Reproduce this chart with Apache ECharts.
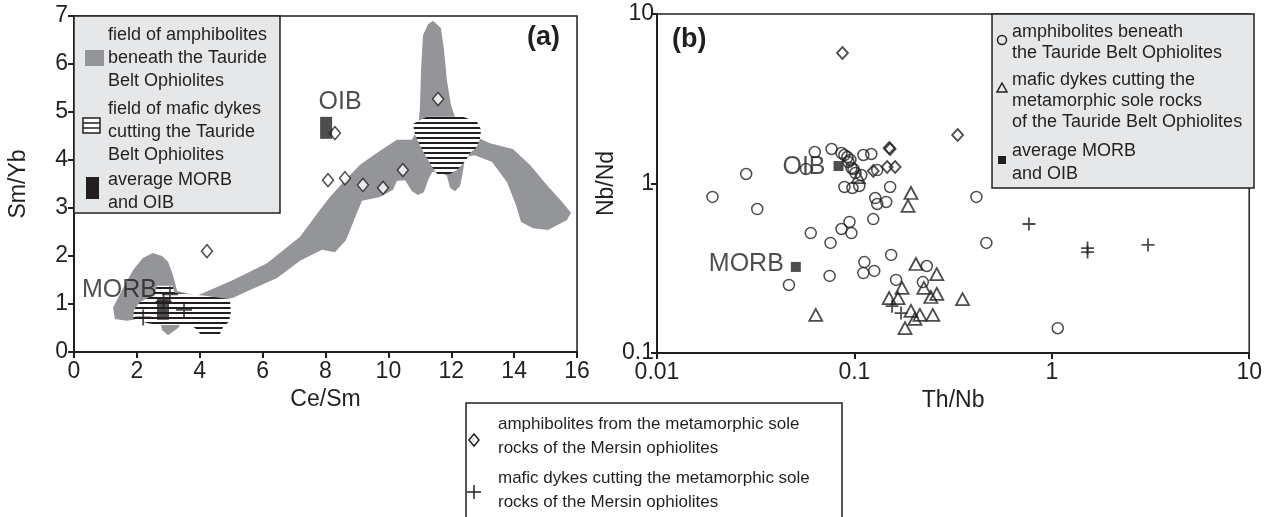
<!DOCTYPE html>
<html>
<head>
<meta charset="utf-8">
<script src="https://cdn.jsdelivr.net/npm/echarts@6/dist/echarts.min.js"></script>
<style>
  html, body { margin: 0; padding: 0; background: #fff; }
  #chart { width: 1265px; height: 517px; }
</style>
</head>
<body>
<div id="chart"></div>
<script>
const INK = "#231f20";
const GRAY = "#939598";
const FONT = '"Liberation Sans", Arial, sans-serif';

// ---------- panel (a): Ce/Sm vs Sm/Yb ----------
// field of amphibolites beneath the Tauride Belt Ophiolites (outline, data units)
const fieldTaurideAmph = [
	[11.42, 6.90], [11.67, 6.75], [11.77, 6.29], [11.86, 5.67], [11.99, 5.15], [12.15, 4.83],
	[12.60, 4.54], [13.23, 4.35], [13.96, 4.23], [14.50, 3.90], [15.04, 3.48], [15.52, 3.13],
	[15.81, 2.90], [15.68, 2.75], [15.08, 2.54], [14.60, 2.58], [14.22, 2.71], [14.06, 3.06],
	[13.77, 3.54], [13.30, 3.96], [12.75, 4.10], [12.44, 4.06], [12.37, 3.75], [12.28, 3.46],
	[12.12, 3.35], [11.96, 3.42], [11.86, 3.67], [11.64, 3.75], [11.39, 3.75], [11.26, 3.58],
	[11.13, 3.33], [10.94, 3.27], [10.75, 3.35], [10.53, 3.58], [10.27, 3.56], [10.15, 3.38],
	[9.73, 3.23], [9.16, 3.15], [8.97, 2.85], [8.65, 2.33], [8.30, 2.08], [7.89, 2.13],
	[7.19, 1.90], [6.46, 1.54], [5.60, 1.29], [5.06, 1.13], [4.17, 1.00], [3.63, 0.92],
	[3.50, 0.71], [3.31, 0.50], [2.99, 0.35], [2.80, 0.46], [2.74, 0.67], [2.26, 0.71],
	[1.69, 0.65], [1.30, 0.69], [1.24, 0.92], [1.53, 1.29], [1.88, 1.71], [2.19, 1.96],
	[2.51, 2.06], [2.80, 2.00], [2.99, 1.88], [3.15, 1.60], [3.28, 1.27], [3.91, 1.17],
	[5.06, 1.50], [6.14, 1.85], [7.19, 2.40], [7.82, 2.96], [8.14, 3.23], [8.62, 3.58],
	[9.10, 3.90], [9.64, 4.15], [10.27, 4.42], [10.75, 4.42], [10.94, 4.67], [11.00, 5.04],
	[11.04, 5.88], [11.10, 6.60], [11.26, 6.83]
];
// fields of mafic dykes cutting the Tauride Belt Ophiolites
const fieldDykesUpper = [
	[11.23, 4.90], [12.37, 4.90], [12.82, 4.79], [12.95, 4.63], [12.91, 4.42], [12.79, 4.25],
	[12.60, 4.15], [12.47, 4.00], [12.34, 3.90], [12.18, 3.79], [11.96, 3.71], [11.55, 3.71],
	[11.42, 3.83], [11.26, 4.00], [11.13, 4.15], [11.00, 4.31], [10.85, 4.52], [10.78, 4.75],
	[11.00, 4.83]
];
const fieldDykesLower = [
	[2.64, 1.38], [3.12, 1.38], [3.21, 1.23], [4.17, 1.17], [4.96, 1.10], [4.99, 0.83],
	[4.93, 0.63], [4.74, 0.52], [4.61, 0.33], [4.10, 0.31], [3.85, 0.50], [3.69, 0.56],
	[2.74, 0.56], [2.35, 0.60], [1.88, 0.69], [1.91, 0.88], [2.10, 1.04], [2.42, 1.15],
	[2.58, 1.25]
];
const aMersinAmph = [
	[11.58, 5.27], [8.30, 4.56], [8.08, 3.58], [8.62, 3.62], [9.19, 3.48], [9.83, 3.42],
	[10.46, 3.79], [4.23, 2.10]
];
const aMersinDykes = [[2.20, 0.72], [3.50, 0.88], [2.85, 1.05], [3.05, 1.20]];
const aOIB = [8.02, 4.67];
const aMORB = [2.83, 0.90];

// ---------- panel (b): Th/Nb vs Nb/Nd ----------
const bTaurideAmph = [
	[0.0191, 0.833], [0.0283, 1.138], [0.0322, 0.707], [0.0466, 0.252], [0.0568, 1.218],
	[0.0601, 0.510], [0.0630, 1.534], [0.0749, 0.285], [0.0757, 0.446], [0.0766, 1.598],
	[0.0860, 1.513], [0.0890, 1.473], [0.0922, 1.433], [0.0955, 1.376], [0.0860, 0.539],
	[0.0944, 0.593], [0.0966, 0.510], [0.0890, 0.954], [0.0977, 0.941], [0.1059, 0.967],
	[0.0966, 1.234], [0.1012, 1.153], [0.1084, 1.122], [0.1110, 1.473], [0.1218, 1.493],
	[0.1123, 0.344], [0.1110, 0.296], [0.1260, 0.305], [0.1246, 0.617], [0.1275, 0.821],
	[0.1305, 0.757], [0.1449, 0.778], [0.1305, 1.201], [0.1517, 0.954], [0.1535, 0.379],
	[0.1626, 0.270], [0.2327, 0.326], [0.2222, 0.262], [0.4151, 0.833], [0.4660, 0.446],
	[1.072, 0.140], [0.0933, 1.339], [0.0989, 1.218]
];
const bTaurideDykes = [
	[0.1047, 1.092], [0.1934, 0.879], [0.1869, 0.737], [0.0637, 0.168], [0.2049, 0.335],
	[0.2614, 0.292], [0.1743, 0.242], [0.1500, 0.211], [0.1664, 0.211], [0.2248, 0.242],
	[0.2438, 0.214], [0.2614, 0.223], [0.3530, 0.208], [0.1934, 0.177], [0.2147, 0.168],
	[0.2026, 0.159], [0.2495, 0.168], [0.1805, 0.140]
];
const bMersinAmph = [
	[0.0870, 5.89], [0.1517, 1.598], [0.1500, 1.620], [0.1246, 1.185], [0.1465, 1.251],
	[0.1607, 1.251], [0.3332, 1.932]
];
const bMersinDykes = [
	[0.1552, 0.189], [0.1723, 0.172], [0.766, 0.577], [1.517, 0.416], [1.517, 0.394],
	[3.072, 0.434]
];
const bOIB = [0.0831, 1.268];
const bMORB = [0.0505, 0.322];

// horizontal hatch pattern for the dyke fields
const hatchCanvas = document.createElement("canvas");
hatchCanvas.width = 8;
hatchCanvas.height = 5;
const hctx = hatchCanvas.getContext("2d");
hctx.fillStyle = "#fff";
hctx.fillRect(0, 0, 8, 5);
hctx.fillStyle = INK;
hctx.fillRect(0, 2, 8, 2);
const hatchPattern = {image: hatchCanvas, repeat: "repeat"};

const fieldSeries = (points, fill, z) => ({
	type: "custom",
	xAxisIndex: 0,
	yAxisIndex: 0,
	silent: true,
	z: z,
	data: points,
	renderItem: (params, api) => {
		if (params.dataIndex !== 0) return null;
		return {
			type: "polygon",
			shape: {points: points.map((p) => api.coord(p))},
			style: {fill: fill},
		};
	},
});

const hollow = (borderWidth) => ({color: "rgba(0,0,0,0)", borderColor: INK, borderWidth: borderWidth});
const PLUS = "path://M0,5L10,5M5,0L5,10";

const valueAxisStyle = {
	axisLine: {lineStyle: {color: INK, width: 2}},
	axisTick: {length: 6, lineStyle: {color: INK, width: 2}},
	splitLine: {show: false},
	nameTextStyle: {color: INK, fontSize: 23, fontFamily: FONT},
};
const fmtLog = (v) => String(+(+v).toPrecision(2));

const option = {
	animation: false,
	backgroundColor: "#fff",
	grid: [
		{left: 74, top: 16, width: 503, height: 336, show: true, borderColor: INK, borderWidth: 1.5},
		{left: 657, top: 14, width: 597, height: 339, show: true, borderColor: INK, borderWidth: 1.5},
	],
	xAxis: [
		{
			gridIndex: 0, type: "value", min: 0, max: 16, interval: 2,
			name: "Ce/Sm", nameLocation: "middle", nameGap: 24,
			axisLabel: {color: INK, fontSize: 23, fontFamily: FONT, margin: 8},
			...valueAxisStyle,
		},
		{
			gridIndex: 1, type: "log", logBase: 10, min: 0.01, max: 10,
			name: "Th/Nb", nameLocation: "middle", nameGap: 31,
			axisLabel: {color: INK, fontSize: 23, fontFamily: FONT, margin: 8, formatter: fmtLog},
			minorTick: {show: false},
			...valueAxisStyle,
		},
	],
	yAxis: [
		{
			gridIndex: 0, type: "value", min: 0, max: 7, interval: 1,
			name: "Sm/Yb", nameLocation: "middle", nameGap: 44, nameRotate: 90,
			axisLabel: {color: INK, fontSize: 23, fontFamily: FONT, margin: 6},
			...valueAxisStyle,
		},
		{
			gridIndex: 1, type: "log", logBase: 10, min: 0.1, max: 10,
			name: "Nb/Nd", nameLocation: "middle", nameGap: 29, nameRotate: 90,
			axisLabel: {color: INK, fontSize: 23, fontFamily: FONT, margin: 3, formatter: fmtLog},
			minorTick: {show: false},
			...valueAxisStyle,
		},
	],
	series: [
		fieldSeries(fieldTaurideAmph, GRAY, 1),
		fieldSeries(fieldDykesUpper, hatchPattern, 2),
		fieldSeries(fieldDykesLower, hatchPattern, 2),
		{
			type: "scatter", xAxisIndex: 0, yAxisIndex: 0, z: 3,
			symbol: "diamond", symbolSize: [11, 13],
			itemStyle: {color: "#fff", borderColor: INK, borderWidth: 1.5},
			data: aMersinAmph,
		},
		{
			type: "scatter", xAxisIndex: 0, yAxisIndex: 0, z: 3,
			symbol: PLUS, symbolSize: 16,
			itemStyle: hollow(1.8),
			data: aMersinDykes,
		},
		{
			type: "scatter", xAxisIndex: 0, yAxisIndex: 0, z: 4,
			symbol: "rect", symbolSize: [12, 22],
			itemStyle: {color: INK},
			label: {show: true, formatter: "{b}", color: INK, fontSize: 25, fontFamily: FONT},
			data: [
				{name: "OIB", value: aOIB, label: {position: "top", distance: 5, offset: [14, 3]}},
				{name: "MORB", value: aMORB, label: {position: "left", distance: 5, offset: [5, -19]}},
			],
		},
		{
			type: "scatter", xAxisIndex: 1, yAxisIndex: 1, z: 3,
			symbol: "circle", symbolSize: 11,
			itemStyle: hollow(1.5),
			data: bTaurideAmph,
		},
		{
			type: "scatter", xAxisIndex: 1, yAxisIndex: 1, z: 3,
			symbol: "triangle", symbolSize: [13, 12],
			itemStyle: hollow(1.8),
			data: bTaurideDykes,
		},
		{
			type: "scatter", xAxisIndex: 1, yAxisIndex: 1, z: 3,
			symbol: "diamond", symbolSize: [11, 12],
			itemStyle: hollow(1.8),
			data: bMersinAmph,
		},
		{
			type: "scatter", xAxisIndex: 1, yAxisIndex: 1, z: 3,
			symbol: PLUS, symbolSize: 13,
			itemStyle: hollow(1.8),
			data: bMersinDykes,
		},
		{
			type: "scatter", xAxisIndex: 1, yAxisIndex: 1, z: 2,
			symbol: "rect", symbolSize: 10,
			itemStyle: {color: INK},
			label: {show: true, formatter: "{b}", color: INK, fontSize: 25, fontFamily: FONT, position: "left"},
			data: [
				{name: "OIB", value: bOIB, label: {distance: 8, offset: [0, 1]}},
				{name: "MORB", value: bMORB, label: {distance: 7, offset: [0, -3]}},
			],
		},
	],
	graphic: [
		// panel tags
		{type: "text", x: 560, y: 38, z: 100, style: {text: "(a)", font: `bold 27px ${FONT}`, fill: INK, align: "right", verticalAlign: "middle"}},
		{type: "text", x: 672, y: 40, z: 100, style: {text: "(b)", font: `bold 27px ${FONT}`, fill: INK, align: "left", verticalAlign: "middle"}},

		// legend (a)
		{type: "rect", z: 100, shape: {x: 74, y: 16, width: 206, height: 197}, style: {fill: "#e6e7e8", stroke: INK, lineWidth: 1.5}},
		{type: "rect", z: 101, shape: {x: 85, y: 50, width: 19, height: 16}, style: {fill: GRAY}},
		{type: "text", z: 101, x: 108, y: 24, style: {text: "field of amphibolites\nbeneath the Tauride\nBelt Ophiolites", font: `18px ${FONT}`, lineHeight: 23, fill: INK}},
		{type: "rect", z: 101, shape: {x: 83, y: 118, width: 17, height: 15}, style: {fill: "#fff", stroke: INK, lineWidth: 1.5}},
		{type: "line", z: 101, shape: {x1: 83, y1: 123, x2: 100, y2: 123}, style: {stroke: INK, lineWidth: 1.5}},
		{type: "line", z: 101, shape: {x1: 83, y1: 128, x2: 100, y2: 128}, style: {stroke: INK, lineWidth: 1.5}},
		{type: "text", z: 101, x: 108, y: 98, style: {text: "field of mafic dykes\ncutting the Tauride\nBelt Ophiolites", font: `18px ${FONT}`, lineHeight: 23, fill: INK}},
		{type: "rect", z: 101, shape: {x: 86, y: 177, width: 13, height: 22}, style: {fill: INK}},
		{type: "text", z: 101, x: 108, y: 169, style: {text: "average MORB\nand OIB", font: `18px ${FONT}`, lineHeight: 23, fill: INK}},

		// legend (b)
		{type: "rect", z: 100, shape: {x: 992, y: 14, width: 262, height: 174}, style: {fill: "#e6e7e8", stroke: INK, lineWidth: 1.5}},
		{type: "circle", z: 101, shape: {cx: 1002, cy: 40, r: 4.5}, style: {fill: "none", stroke: INK, lineWidth: 1.5}},
		{type: "text", z: 101, x: 1012, y: 22, style: {text: "amphibolites beneath\nthe Tauride Belt Ophiolites", font: `18px ${FONT}`, lineHeight: 21, fill: INK}},
		{type: "polygon", z: 101, shape: {points: [[1002, 83], [997, 92], [1007, 92]]}, style: {fill: "none", stroke: INK, lineWidth: 1.5}},
		{type: "text", z: 101, x: 1012, y: 70, style: {text: "mafic dykes cutting the\nmetamorphic sole rocks\nof the Tauride Belt Ophiolites", font: `18px ${FONT}`, lineHeight: 21, fill: INK}},
		{type: "rect", z: 101, shape: {x: 998, y: 156, width: 8, height: 8}, style: {fill: INK}},
		{type: "text", z: 101, x: 1012, y: 140, style: {text: "average MORB\nand OIB", font: `18px ${FONT}`, lineHeight: 23, fill: INK}},

		// legend (bottom)
		{type: "rect", z: 100, shape: {x: 466, y: 403, width: 376, height: 130}, style: {fill: "#fff", stroke: INK, lineWidth: 1.5}},
		{type: "polygon", z: 101, shape: {points: [[474, 434], [479, 440], [474, 446], [469, 440]]}, style: {fill: "none", stroke: INK, lineWidth: 1.5}},
		{type: "text", z: 101, x: 498, y: 412, style: {text: "amphibolites from the metamorphic sole\nrocks of the Mersin ophiolites", font: `17px ${FONT}`, lineHeight: 24, fill: INK}},
		{type: "line", z: 101, shape: {x1: 467, y1: 492, x2: 481, y2: 492}, style: {stroke: INK, lineWidth: 1.5}},
		{type: "line", z: 101, shape: {x1: 474, y1: 485, x2: 474, y2: 499}, style: {stroke: INK, lineWidth: 1.5}},
		{type: "text", z: 101, x: 498, y: 466, style: {text: "mafic dykes cutting the metamorphic sole\nrocks of the Mersin ophiolites", font: `17px ${FONT}`, lineHeight: 24, fill: INK}},
	],
};

const chart = echarts.init(document.getElementById("chart"));
chart.setOption(option);
</script>
</body>
</html>
